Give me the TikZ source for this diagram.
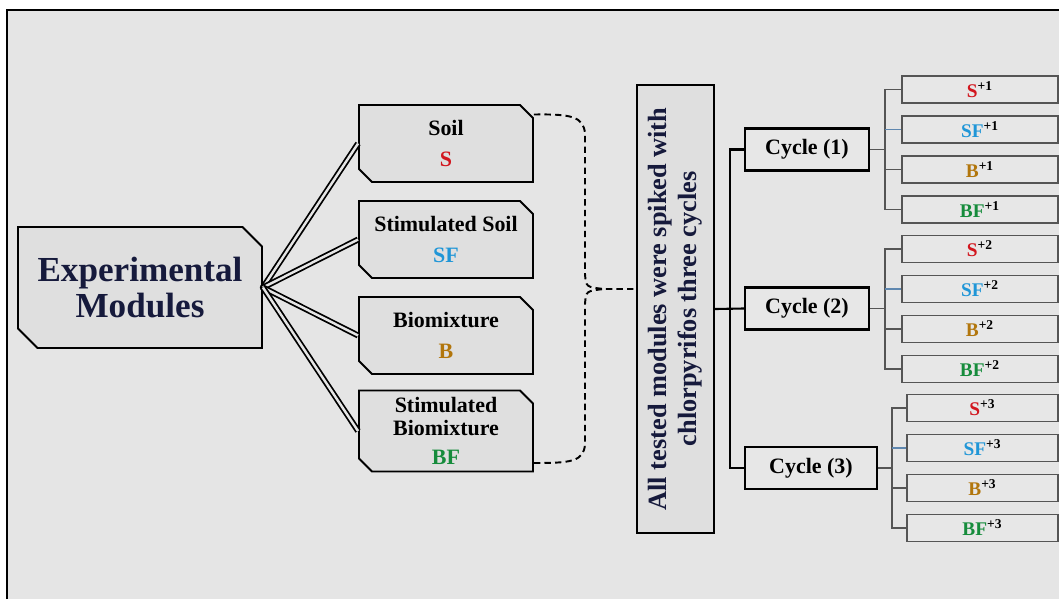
\documentclass[tikz,border=0pt]{standalone}
\usepackage{fontspec}
\setmainfont{Liberation Serif}
\usetikzlibrary{shapes.misc}

\definecolor{bggray}{RGB}{229,229,229}
\definecolor{boxgray}{RGB}{223,223,223}
\definecolor{subgray}{RGB}{231,231,231}
\definecolor{navy}{RGB}{22,26,60}
\definecolor{sred}{RGB}{210,22,30}
\definecolor{sblue}{RGB}{32,150,215}
\definecolor{sbrown}{RGB}{178,118,12}
\definecolor{sgreen}{RGB}{22,140,60}
\definecolor{twiggray}{RGB}{85,85,85}
\definecolor{twigblue}{RGB}{95,135,175}

\tikzset{
  mainbox/.style={chamfered rectangle, chamfered rectangle corners={north east,south west},
    chamfered rectangle xsep=0.2cm, chamfered rectangle ysep=0.19cm,
    draw, line width=1.1pt, fill=boxgray, inner sep=0pt,
    minimum width=4.88cm, minimum height=2.42cm, align=center, text=navy,
    font=\fontsize{20}{20.5}\selectfont\bfseries},
  modbox/.style={chamfered rectangle, chamfered rectangle corners={north east,south west},
    chamfered rectangle xsep=0.13cm, chamfered rectangle ysep=0.13cm,
    draw, line width=1.1pt, fill=boxgray, inner sep=0pt,
    minimum width=3.48cm, minimum height=1.54cm, align=center,
    font=\fontsize{12.5}{13}\selectfont\bfseries},
  bigbox/.style={draw, line width=1.2pt, fill=boxgray, inner sep=0pt,
    minimum width=8.96cm, minimum height=1.54cm, align=center, text=navy,
    font=\fontsize{15}{17}\selectfont\bfseries},
  cyclebox/.style={draw, line width=1.2pt, fill=subgray, inner sep=0pt,
    minimum width=2.48cm, minimum height=0.84cm,
    font=\fontsize{12.5}{15}\selectfont\bfseries},
  subbox/.style={draw=twiggray, line width=0.7pt, fill=subgray, inner sep=0pt,
    minimum width=3.12cm, minimum height=0.54cm,
    font=\fontsize{11}{13}\selectfont\bfseries},
  dbl/.style={draw=black, double=bggray, line width=1pt, double distance=1.4pt},
  brace/.style={dashed, line width=1.1pt, dash pattern=on 3.6pt off 2.4pt},
  trunk/.style={line width=1.2pt},
  twig/.style={draw=twiggray, line width=0.7pt},
}

\begin{document}
\begin{tikzpicture}[x=0.02cm,y=-0.02cm]
\useasboundingbox (0,0) rectangle (1059,599);
\fill[white] (0,0) rectangle (1059,599);
\fill[bggray] (7,10) rectangle (1059,599);
\draw[line width=0.6pt] (7,599) -- (7,10) -- (1059,10);

% modules
\node[mainbox] (main) at (140,287.5) {Experimental\\Modules};
\node[modbox] (soil) at (446,143.5) {Soil\\[4.5pt]{\color{sred}S}};
\node[modbox] (ssoil) at (446,239.5) {Stimulated Soil\\[4.5pt]{\color{sblue}SF}};
\node[modbox] (bio) at (446,335.5) {Biomixture\\[4.5pt]{\color{sbrown}B}};
\node[modbox] (sbio) at (446,431) {Stimulated\\Biomixture\\[4pt]{\color{sgreen}BF}};

\fill (main.east) circle (1.8pt);
\draw[dbl] (main.east) -- (soil.west);
\draw[dbl] (main.east) -- (ssoil.west);
\draw[dbl] (main.east) -- (bio.west);
\draw[dbl] (main.east) -- (sbio.west);

% spiking
\node[bigbox, rotate=90] (big) at (675.5,309) {All tested modules were spiked with\\chlorpyrifos three cycles};
\coordinate (tip) at (604,289);
\draw[brace] ([yshift=0.58cm]soil.east) .. controls (570,114) and (584,116) .. (585,134) -- (585,274) .. controls (586,287) .. (tip) -- (tip -| big.north);
\draw[brace] ([yshift=-0.64cm]sbio.east) .. controls (570,463) and (584,462) .. (585,444) -- (585,304) .. controls (586,291) .. (tip);

% cycles
\node[cyclebox] (c1) at (807,149.5) {Cycle (1)};
\node[cyclebox] (c2) at (807,308.5) {Cycle (2)};
\node[cyclebox, minimum width=2.64cm] (c3) at (811,468) {Cycle (3)};
\coordinate (split) at (730,309);
\draw[trunk] (big.south) -- (c2.west);
\draw[trunk] (c1.west) -- (c1.west -| split) -- (c3.west -| split) -- (c3.west);

% cycle 1
\node[subbox] (s11) at (980,89.5) {{\color{sred}S}\textsuperscript{+1}};
\node[subbox] (s12) at (980,129.5) {{\color{sblue}SF}\textsuperscript{+1}};
\node[subbox] (s13) at (980,169.5) {{\color{sbrown}B}\textsuperscript{+1}};
\node[subbox] (s14) at (980,209.5) {{\color{sgreen}BF}\textsuperscript{+1}};
\coordinate (k1) at (885,149.5);
\draw[twig] (c1.east) -- (k1);
\draw[twig] (s11.west) -- (s11.west -| k1) -- (s14.west -| k1) -- (s14.west);
\draw[twig, draw=twigblue] (s12.west) -- (s12.west -| k1);
\draw[twig] (s13.west) -- (s13.west -| k1);

% cycle 2
\node[subbox] (s21) at (980,249) {{\color{sred}S}\textsuperscript{+2}};
\node[subbox] (s22) at (980,289) {{\color{sblue}SF}\textsuperscript{+2}};
\node[subbox] (s23) at (980,329) {{\color{sbrown}B}\textsuperscript{+2}};
\node[subbox] (s24) at (980,369) {{\color{sgreen}BF}\textsuperscript{+2}};
\coordinate (k2) at (885,308.5);
\draw[twig] (c2.east) -- (k2);
\draw[twig] (s21.west) -- (s21.west -| k2) -- (s24.west -| k2) -- (s24.west);
\draw[twig, draw=twigblue] (s22.west) -- (s22.west -| k2);
\draw[twig] (s23.west) -- (s23.west -| k2);

% cycle 3
\node[subbox, minimum width=3.02cm] (s31) at (982.5,408) {{\color{sred}S}\textsuperscript{+3}};
\node[subbox, minimum width=3.02cm] (s32) at (982.5,448) {{\color{sblue}SF}\textsuperscript{+3}};
\node[subbox, minimum width=3.02cm] (s33) at (982.5,488) {{\color{sbrown}B}\textsuperscript{+3}};
\node[subbox, minimum width=3.02cm] (s34) at (982.5,528) {{\color{sgreen}BF}\textsuperscript{+3}};
\coordinate (k3) at (892,468);
\draw[twig] (c3.east) -- (k3);
\draw[twig] (s31.west) -- (s31.west -| k3) -- (s34.west -| k3) -- (s34.west);
\draw[twig, draw=twigblue] (s32.west) -- (s32.west -| k3);
\draw[twig] (s33.west) -- (s33.west -| k3);
\end{tikzpicture}
\end{document}
